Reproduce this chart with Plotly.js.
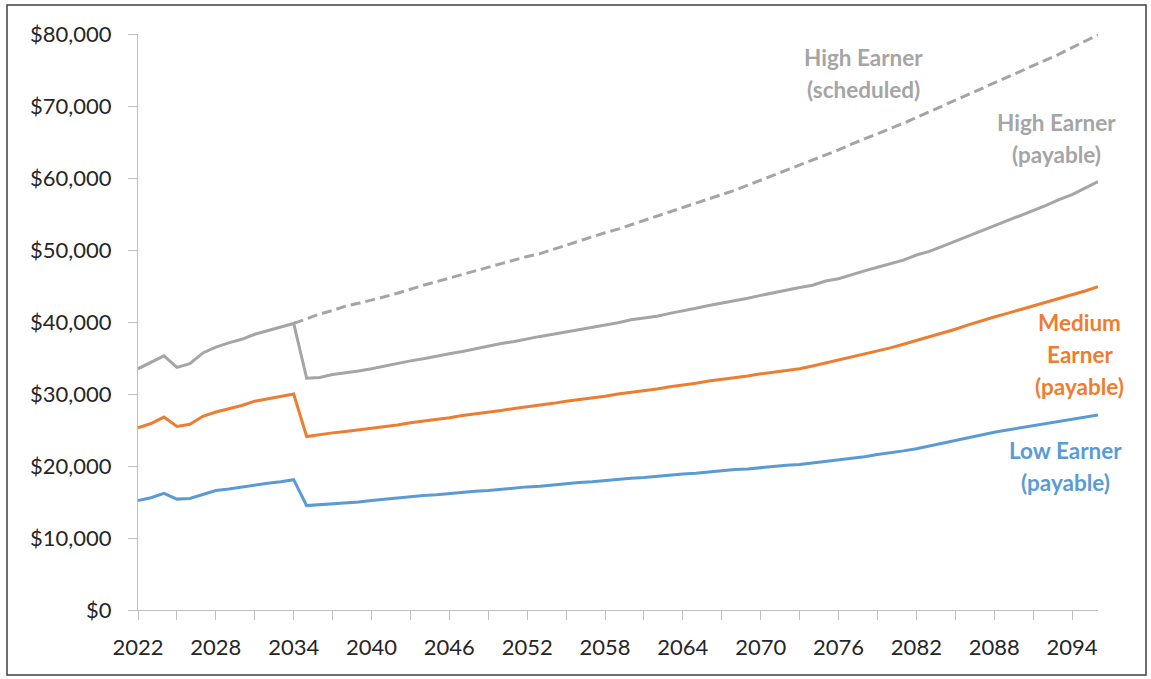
<!DOCTYPE html>
<html>
<head>
<meta charset="utf-8">
<script src="https://cdn.plot.ly/plotly-3.0.1.min.js"></script>
<style>html,body{margin:0;padding:0;background:#fff;}#chart{width:1151px;height:679px;}</style>
</head>
<body>
<div id="chart"></div>
<script>
// Years 2022..2096
const years = [];
for (let y = 2022; y <= 2096; y++) years.push(y);

// Values in thousands of dollars
const highPayable = [33.5,34.4,35.3,33.7,34.2,35.7,36.5,37.1,37.6,38.3,38.8,39.3,39.8,
  32.2,32.3,32.7,32.9,33.2,33.5,33.9,34.3,34.6,34.9,35.3,35.6,35.9,36.3,36.6,37.0,
  37.3,37.7,38.0,38.3,38.6,39.0,39.2,39.6,39.9,40.3,40.5,40.8,41.2,41.5,41.9,42.3,
  42.6,43.0,43.3,43.7,44.1,44.5,44.8,45.1,45.7,46.0,46.6,47.1,47.6,48.1,48.6,49.3,
  49.8,50.5,51.2,52.0,52.6,53.3,54.0,54.8,55.5,56.2,57.0,57.7,58.6,59.5];

const highScheduled = [null,null,null,null,null,null,null,null,null,null,null,null,39.8,
  40.5,41.1,41.6,42.2,42.6,43.0,43.5,44.0,44.6,45.1,45.6,46.1,46.6,47.2,47.7,48.2,
  48.6,49.1,49.5,50.1,50.6,51.2,51.8,52.4,52.9,53.5,54.1,54.6,55.2,55.8,56.4,57.0,
  57.7,58.3,59.0,59.7,60.4,61.0,61.7,62.4,63.2,63.9,64.7,65.4,66.1,66.9,67.6,68.4,
  69.2,70.0,70.8,71.6,72.3,73.1,73.9,74.7,75.5,76.3,77.2,78.1,79.0,79.9];

const mediumPayable = [25.3,25.9,26.8,25.5,25.8,26.9,27.5,27.9,28.4,29.0,29.3,29.7,30.0,
  24.1,24.4,24.6,24.8,25.0,25.2,25.5,25.7,26.0,26.2,26.5,26.7,27.0,27.2,27.5,27.7,
  28.0,28.2,28.5,28.7,29.0,29.2,29.5,29.7,30.0,30.2,30.5,30.7,31.0,31.2,31.5,31.8,
  32.0,32.3,32.5,32.8,33.0,33.3,33.5,33.9,34.3,34.7,35.1,35.5,35.9,36.4,36.9,37.4,
  37.9,38.5,39.0,39.6,40.2,40.7,41.2,41.7,42.2,42.7,43.3,43.8,44.3,44.9];

const lowPayable = [15.2,15.6,16.2,15.4,15.5,16.0,16.6,16.8,17.1,17.3,17.6,17.8,18.1,
  14.5,14.6,14.8,14.9,15.0,15.2,15.4,15.6,15.7,15.9,16.0,16.2,16.3,16.5,16.6,16.8,
  16.9,17.1,17.2,17.4,17.5,17.7,17.8,18.0,18.1,18.3,18.4,18.6,18.7,18.9,19.0,19.2,
  19.3,19.5,19.6,19.8,19.9,20.1,20.2,20.4,20.6,20.9,21.1,21.3,21.6,21.8,22.1,22.4,
  22.8,23.2,23.5,23.9,24.3,24.7,25.0,25.3,25.6,25.9,26.2,26.5,26.8,27.1];

const yTickVals = [0,10000,20000,30000,40000,50000,60000,70000,80000];
const yTickText = ['$0','$10,000','$20,000','$30,000','$40,000','$50,000','$60,000','$70,000','$80,000'];
const xTickVals = [];
const xTickText = [];
for (let y = 2022; y <= 2094; y += 3) { xTickVals.push(y); xTickText.push((y - 2022) % 6 === 0 ? String(y) : ''); }

const GRAY = '#a5a5a5', ORANGE = '#ed7d31', BLUE = '#5b9bd5';
const k = a => a.map(v => v === null ? null : v * 1000);

const traces = [
  {x: years, y: k(highScheduled), mode: 'lines', line: {color: GRAY, width: 3, dash: '10px,5px'}},
  {x: years, y: k(highPayable), mode: 'lines', line: {color: GRAY, width: 3}},
  {x: years, y: k(mediumPayable), mode: 'lines', line: {color: ORANGE, width: 3}},
  {x: years, y: k(lowPayable), mode: 'lines', line: {color: BLUE, width: 3}}
];

const labels = [
  {lines: ['High Earner', '(scheduled)'], x: 2077.9, y: [76700, 72300], color: GRAY},
  {lines: ['High Earner', '(payable)'], x: 2092.8, y: [67700, 63300], color: GRAY},
  {lines: ['Medium', 'Earner', '(payable)'], x: 2094.6, y: [39900, 35500, 31100], color: ORANGE},
  {lines: ['Low Earner', '(payable)'], x: 2093.5, y: [22100, 17700], color: BLUE}
];
const annotations = [];
labels.forEach(l => l.lines.forEach((t, i) => annotations.push({
  x: l.x, y: l.y[i], xref: 'x', yref: 'y', text: '<b>' + t + '</b>', showarrow: false,
  xanchor: 'center', yanchor: 'middle', font: {family: 'Lato', size: 22.5, color: l.color}
})));

const layout = {
  width: 1151, height: 679,
  margin: {l: 138, r: 53, t: 34, b: 69},
  paper_bgcolor: '#fff', plot_bgcolor: '#fff',
  showlegend: false,
  font: {family: 'Lato', size: 22, color: '#262626'},
  xaxis: {
    range: [2022, 2096], tickvals: xTickVals, ticktext: xTickText,
    showgrid: false, zeroline: false, showline: true, linecolor: '#bfbfbf', linewidth: 1,
    ticks: 'outside', ticklen: 9, tickcolor: '#bfbfbf', tickwidth: 1,
    tickfont: {family: 'Lato', size: 22, color: '#262626'}, ticklabelstandoff: 9
  },
  yaxis: {
    range: [0, 80000], tickvals: yTickVals, ticktext: yTickText,
    showgrid: false, zeroline: false, showline: true, linecolor: '#bfbfbf', linewidth: 1,
    ticks: 'outside', ticklen: 9, tickcolor: '#bfbfbf', tickwidth: 1,
    tickfont: {family: 'Lato', size: 22, color: '#262626'}, ticklabelstandoff: 12
  },
  annotations: annotations,
  shapes: [{type: 'rect', xref: 'paper', yref: 'paper',
    x0: (7 - 138) / 960, x1: (1146 - 138) / 960, y0: (610 - 675) / 576, y1: (610 - 5) / 576,
    line: {color: '#404040', width: 1.5}, fillcolor: 'rgba(0,0,0,0)', layer: 'below'}]
};

Plotly.newPlot('chart', traces, layout, {displayModeBar: false, staticPlot: true});
</script>
</body>
</html>
